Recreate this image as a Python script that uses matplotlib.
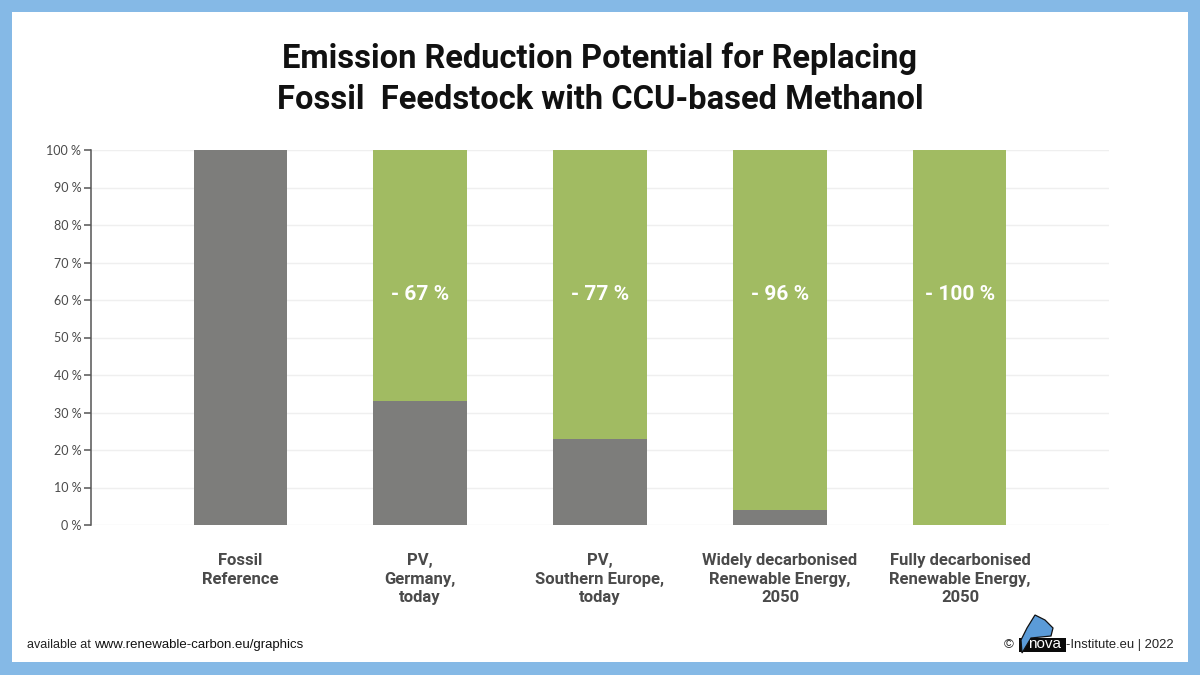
import matplotlib
matplotlib.use("Agg")
import matplotlib.pyplot as plt
from matplotlib.patches import Polygon, Rectangle

categories = ["Fossil\nReference", "PV,\nGermany,\ntoday", "PV,\nSouthern Europe,\ntoday",
              "Widely decarbonised\nRenewable Energy,\n2050", "Fully decarbonised\nRenewable Energy,\n2050"]
remaining = [100, 33, 23, 4, 0]
reduction = [0, 67, 77, 96, 100]
reduction_labels = ["", "- 67 %", "- 77 %", "- 96 %", "- 100 %"]
yticks = list(range(0, 101, 10))
title_lines = ["Emission Reduction Potential for Replacing", "Fossil  Feedstock with CCU-based Methanol"]

W, H = 1200, 675
GREY, GREEN, BLUE = "#7d7d7b", "#a1bb62", "#85b9e6"
TXT = "#4a4a4a"

fig = plt.figure(figsize=(W/100, H/100), dpi=100, facecolor=BLUE)
bg = fig.add_axes([0, 0, 1, 1]); bg.set_xlim(0, W); bg.set_ylim(H, 0); bg.axis("off")
bg.add_patch(Rectangle((12, 12), 1176, 650, fc="white", ec="none"))

bg.text(600, 59, title_lines[0], ha="center", va="center", fontsize=23.5, fontweight="bold",
        family="Roboto", color="#111111")
bg.text(600, 100, title_lines[1], ha="center", va="center", fontsize=23.5, fontweight="bold",
        family="Roboto", color="#111111")

ax = fig.add_axes([91/W, 1-525/H, (1109-91)/W, 375/H], facecolor="none")
x = list(range(len(categories)))
ax.bar(x, remaining, width=0.517, color=GREY, zorder=3)
ax.bar(x, reduction, width=0.517, bottom=remaining, color=GREEN, zorder=3)
ax.set_xlim(-0.828, 4.828); ax.set_ylim(0, 100)
ax.set_yticks(yticks)
ax.set_yticklabels([f"{v} %" for v in yticks], fontsize=9, family="Lato", color=TXT)
ax.tick_params(axis="y", length=5, width=1.1, color="#555555", pad=2)
ax.set_xticks(x)
ax.set_xticklabels(categories, fontsize=12, fontweight="bold", family="Roboto", color=TXT, linespacing=1.32)
ax.tick_params(axis="x", length=0, pad=20)
ax.grid(axis="y", color="#efefef", lw=1, zorder=0)
ax.set_axisbelow(True)
for s in ["top", "right", "bottom"]:
    ax.spines[s].set_visible(False)
ax.spines["left"].set_color("#555555"); ax.spines["left"].set_linewidth(1.1)
for i, lab in enumerate(reduction_labels):
    if lab:
        ax.text(i, 61.5, lab, ha="center", va="center", color="white", fontsize=15,
                fontweight="bold", family="Roboto", zorder=4)

bg.text(27, 645, "available at", ha="left", va="center", fontsize=9, family="Liberation Sans", color="#222222")
bg.text(94, 645, "www.renewable-carbon.eu/graphics", ha="left", va="center", fontsize=9.5,
        family="Liberation Sans", color="#111111")

# logo
bg.text(1004, 645, "©", ha="left", va="center", fontsize=9.5, family="Liberation Sans", color="#222222")
bg.add_patch(Rectangle((1019, 638), 47, 14, fc="#0a0a0a", ec="none"))
bg.add_patch(Polygon([(1022, 653), (1021, 640), (1027, 628), (1035, 615), (1045, 620), (1053, 628),
                      (1051, 636), (1031, 638)],
                     closed=True, fc="#5b9bd8", ec="#111111", lw=0.9))
bg.text(1045, 644.5, "nova", ha="center", va="center", fontsize=11, family="Liberation Sans", color="white")
bg.text(1066, 645, "-Institute.eu | 2022", ha="left", va="center", fontsize=9.4, family="Liberation Sans", color="#222222")

fig.savefig("out.png", dpi=100, facecolor=BLUE)
